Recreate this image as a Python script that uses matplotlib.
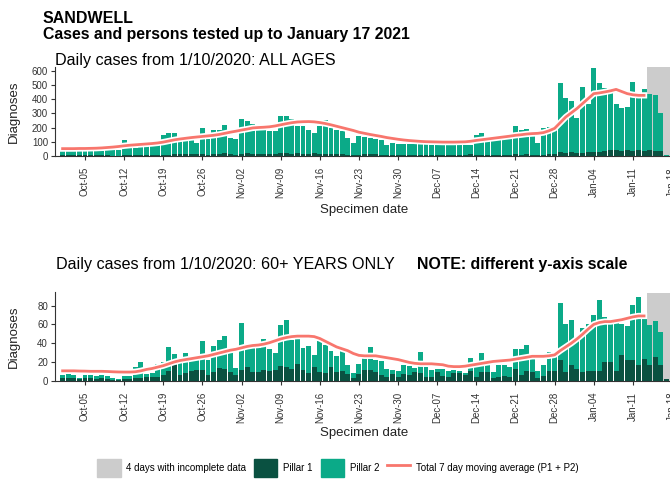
import pandas as pd
import matplotlib.pyplot as plt
import matplotlib.dates as mdates
import matplotlib.patheffects as pe
from matplotlib.patches import Patch
from matplotlib.lines import Line2D

plt.rcParams['font.family'] = ['Liberation Sans', 'DejaVu Sans']

# 日期：2020-10-01 ~ 2021-01-17
dates = pd.date_range('2020-10-01', '2021-01-17')
tick_dates = pd.date_range('2020-10-05', '2021-01-18', freq='7D')

# 全年齡 (Pillar 1 + Pillar 2 合計、Pillar 1、7日平均)
all_total = [32, 33, 34, 33, 34, 35, 35, 38, 40, 42,
             44, 115, 55, 59, 64, 68, 72, 76, 148, 160,
             160, 118, 112, 110, 95, 198, 122, 180, 185, 218,
             125, 120, 258, 245, 228, 182, 180, 178, 175, 280,
             282, 258, 214, 215, 181, 160, 210, 256, 200, 181,
             174, 127, 92, 141, 134, 127, 118, 111, 75, 92,
             87, 88, 86, 85, 85, 82, 80, 78, 78, 76,
             75, 78, 80, 80, 150, 162, 110, 112, 115, 118,
             120, 212, 180, 188, 141, 92, 195, 205, 210, 518,
             410, 390, 268, 488, 370, 620, 512, 478, 445, 370,
             340, 345, 525, 430, 470, 435, 430, 305, 8]
all_p1 = [4, 4, 5, 4, 5, 5, 4, 5, 4, 3,
          3, 6, 5, 6, 7, 7, 8, 8, 9, 10,
          14, 12, 12, 14, 13, 15, 10, 12, 16, 18,
          12, 10, 14, 18, 14, 13, 15, 14, 16, 20,
          18, 17, 22, 15, 12, 18, 13, 12, 16, 12,
          13, 10, 6, 10, 14, 14, 12, 9, 7, 9,
          7, 9, 8, 10, 10, 7, 6, 10, 7, 6,
          9, 9, 8, 12, 6, 10, 10, 5, 6, 7,
          6, 14, 8, 12, 10, 5, 8, 12, 13, 30,
          24, 28, 22, 20, 25, 28, 30, 38, 40, 45,
          35, 40, 38, 42, 35, 42, 38, 35, 3]
all_ma = [52, 52, 52, 53, 53, 54, 55, 57, 60, 63,
          67, 72, 76, 79, 82, 85, 88, 92, 98, 106,
          114, 120, 125, 130, 134, 138, 142, 146, 152, 160,
          168, 175, 183, 190, 198, 201, 203, 206, 212, 220,
          228, 235, 240, 242, 243, 241, 236, 229, 220, 210,
          200, 190, 180, 168, 160, 152, 145, 138, 130, 124,
          118, 113, 109, 106, 103, 101, 100, 99, 98, 98,
          98, 99, 100, 104, 110, 115, 120, 125, 130, 135,
          140, 146, 150, 155, 158, 160, 165, 178, 195, 235,
          275, 305, 335, 370, 405, 440, 445, 452, 460, 470,
          455, 440, 432, 428, 428]

# 60歲以上
old_total = [6, 7, 6, 3, 6, 6, 5, 6, 5, 3,
             2, 5, 5, 15, 20, 7, 8, 18, 20, 36,
             28, 22, 30, 22, 25, 42, 22, 37, 43, 48,
             31, 14, 61, 36, 36, 35, 44, 34, 29, 59,
             65, 43, 45, 35, 37, 27, 42, 38, 32, 26,
             33, 17, 8, 18, 29, 36, 22, 21, 13, 11,
             10, 17, 16, 14, 31, 15, 11, 12, 13, 10,
             11, 10, 8, 24, 15, 30, 17, 9, 17, 17,
             15, 34, 34, 38, 23, 10, 17, 31, 26, 83,
             60, 65, 45, 56, 60, 70, 86, 68, 62, 61,
             60, 58, 81, 89, 66, 59, 64, 52, 2]
old_p1 = [3, 3, 3, 2, 3, 3, 2, 3, 2, 1,
          1, 2, 2, 3, 3, 4, 4, 4, 6, 10,
          17, 6, 8, 10, 11, 11, 6, 9, 14, 13,
          9, 6, 11, 15, 9, 9, 11, 10, 11, 16,
          15, 13, 18, 11, 8, 15, 9, 8, 15, 9,
          10, 7, 3, 7, 11, 11, 9, 6, 4, 7,
          4, 7, 6, 9, 8, 4, 4, 9, 5, 4,
          8, 8, 6, 10, 4, 9, 9, 3, 4, 5,
          4, 13, 6, 10, 9, 3, 5, 10, 10, 22,
          9, 17, 13, 9, 10, 10, 10, 20, 20, 10,
          27, 22, 22, 17, 23, 17, 25, 17, 2]
old_ma = [10.5, 10.5, 10.5, 10.3, 10.2, 10, 10, 10, 9.8, 9.5,
          9.3, 9.2, 9.2, 9.5, 10.5, 12, 13, 14.5, 16, 18,
          20, 21.5, 22.5, 23.5, 24.5, 25.5, 26.5, 28, 29.5, 31,
          32.5, 33.5, 35, 36.5, 37.5, 38, 39, 40.5, 42.5, 44.5,
          46, 47, 47.5, 47.5, 47.5, 47, 45, 42, 39, 36,
          34, 32, 29, 27, 26.5, 26.5, 26.5, 25.5, 24.5, 23.5,
          22.5, 21, 19.5, 18.5, 18, 18, 18, 17.5, 17, 15.5,
          15, 15, 15.5, 16.5, 17.5, 18.5, 19.5, 20.5, 21, 21.5,
          22, 23, 24, 25, 26, 26, 26, 26.5, 27.5, 32,
          36, 40, 44.5, 49.5, 55, 60, 62, 63, 63, 64,
          65, 66.5, 68, 69, 69]

GREY = '#CCCCCC'
P1_COL = '#0A5141'
P2_COL = '#0BAA88'
MA_COL = '#F8766D'
TXT = '#333333'

W, H = 670, 483


def panel(ax, total, p1, ma, ymax, yticks):
    p2 = [t - a for t, a in zip(total, p1)]
    x0 = mdates.date2num(dates[0]) - 1.36
    x1 = mdates.date2num(pd.Timestamp('2021-01-18'))
    # 最後4天資料不完整
    ax.axvspan(mdates.date2num(dates[-4]) - 0.5, x1 + 1, color=GREY, lw=0, zorder=0)
    ax.bar(dates, p1, width=0.88, color=P1_COL, lw=0, zorder=2)
    ax.bar(dates, p2, bottom=p1, width=0.88, color=P2_COL, lw=0, zorder=2)
    ax.plot(dates[:len(ma)], ma, color=MA_COL, lw=2, zorder=3,
            path_effects=[pe.Stroke(linewidth=4.5, foreground='white'), pe.Normal()])
    ax.set_xlim(x0, x1)
    ax.set_ylim(0, ymax)
    ax.set_yticks(yticks)
    ax.set_xticks(tick_dates)
    ax.xaxis.set_major_formatter(mdates.DateFormatter('%b-%d'))
    ax.tick_params(axis='x', labelrotation=90, labelsize=7, length=3, pad=5,
                   colors=TXT, width=0.8)
    ax.tick_params(axis='y', labelsize=7, length=3, pad=2, colors=TXT, width=0.8)
    for s in ['top', 'right']:
        ax.spines[s].set_visible(False)
    for s in ['left', 'bottom']:
        ax.spines[s].set_color(TXT)
        ax.spines[s].set_linewidth(0.8)


fig = plt.figure(figsize=(6.7, 4.83), dpi=100)

ax1 = fig.add_axes([55 / W, 1 - 156 / H, 617 / W, 89 / H])
panel(ax1, all_total, all_p1, all_ma, 628, [0, 100, 200, 300, 400, 500, 600])

ax2 = fig.add_axes([55 / W, 1 - 380.7 / H, 617 / W, 88.2 / H])
panel(ax2, old_total, old_p1, old_ma, 94, [0, 20, 40, 60, 80])

# 標題
fig.text(43 / W, 1 - 22.7 / H, 'SANDWELL', fontweight='bold',
         fontsize=11.5, va='baseline')
fig.text(43 / W, 1 - 39.5 / H, 'Cases and persons tested up to January 17 2021',
         fontweight='bold', fontsize=11.4, va='baseline')
fig.text(55 / W, 1 - 65.5 / H, 'Daily cases from 1/10/2020: ALL AGES',
         fontsize=11.6, va='baseline')
fig.text(56 / W, 1 - 269.5 / H, 'Daily cases from 1/10/2020: 60+ YEARS ONLY',
         fontsize=11.6, va='baseline')
fig.text(417 / W, 1 - 269.5 / H, 'NOTE: different y-axis scale',
         fontsize=11.4, fontweight='bold', va='baseline')

# 座標軸標籤
for yc in [111.5, 336.6]:
    fig.text(14 / W, 1 - yc / H, 'Diagnoses', rotation=90, ha='center',
             va='center', fontsize=9.5, color='#222222')
for yc in [210, 433]:
    fig.text(364 / W, 1 - yc / H, 'Specimen date', ha='center', va='center',
             fontsize=9.5, color='#222222')

# 圖例
handles = [Patch(color=GREY), Patch(color=P1_COL), Patch(color=P2_COL),
           Line2D([], [], color=MA_COL, lw=2)]
labels = ['4 days with incomplete data', 'Pillar 1', 'Pillar 2',
          'Total 7 day moving average (P1 + P2)']
fig.legend(handles, labels, loc='center', bbox_to_anchor=(338 / W, 1 - 468 / H),
           ncol=4, frameon=False, prop={'size': 7},
           handlelength=2.4, handleheight=2.5, handletextpad=0.6,
           columnspacing=0.8)

fig.savefig('out.png', dpi=100)
